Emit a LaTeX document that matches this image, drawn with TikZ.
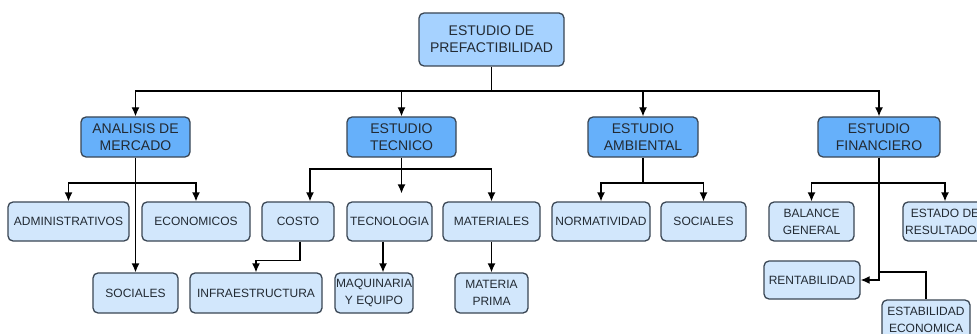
\documentclass[tikz,border=0pt]{standalone}
\usepackage{fontspec}
\setmainfont{Liberation Sans}
\usetikzlibrary{arrows.meta}
\definecolor{rootfill}{HTML}{A6D2FF}
\definecolor{studyfill}{HTML}{66B0FA}
\definecolor{leaffill}{HTML}{D2E7FC}
\definecolor{edge}{HTML}{3A4654}
\definecolor{ink}{HTML}{222A33}

\begin{document}
\begin{tikzpicture}[x=1pt, y=-1pt, >={Latex[length=9pt,width=8pt]},
	box/.style={draw=edge, line width=1.3pt, rounded corners=5pt, align=center, inner sep=1pt, text=ink},
	rootbox/.style={box, fill=rootfill, font=\fontsize{14}{17}\selectfont},
	studybox/.style={box, fill=studyfill, font=\fontsize{14}{17}\selectfont},
	leafbox/.style={box, fill=leaffill, font=\fontsize{12}{17}\selectfont},
	link/.style={line width=1.3pt, black}]
	\clip (0,0) rectangle (977,334);
	\fill[white] (0,0) rectangle (977,334);

	\node[rootbox, minimum width=145pt, minimum height=53pt] (root) at (491.5, 39.5) {ESTUDIO DE\\PREFACTIBILIDAD};

	\node[studybox, minimum width=109pt, minimum height=40pt] (mer) at (135.5, 137) {ANALISIS DE\\MERCADO};
	\node[studybox, minimum width=109pt, minimum height=40pt] (tec) at (401.5, 137) {ESTUDIO\\TECNICO};
	\node[studybox, minimum width=110pt, minimum height=40pt] (amb) at (643, 137) {ESTUDIO\\AMBIENTAL};
	\node[studybox, minimum width=122pt, minimum height=40pt] (fin) at (879, 137) {ESTUDIO\\FINANCIERO};

	\node[leafbox, minimum width=121pt, minimum height=39pt] (adm) at (68.5, 221.5) {ADMINISTRATIVOS};
	\node[leafbox, minimum width=108pt, minimum height=39pt] (eco) at (196, 221.5) {ECONOMICOS};
	\node[leafbox, minimum width=85pt, minimum height=40pt] (soc1) at (135.5, 293) {SOCIALES};

	\node[leafbox, minimum width=72pt, minimum height=39pt] (costo) at (298, 221.5) {COSTO};
	\node[leafbox, minimum width=85pt, minimum height=39pt] (tecn) at (389.5, 221.5) {TECNOLOGIA};
	\node[leafbox, minimum width=97pt, minimum height=39pt] (mat) at (491.5, 221.5) {MATERIALES};
	\node[leafbox, minimum width=132pt, minimum height=40pt] (infra) at (256, 293) {INFRAESTRUCTURA};
	\node[leafbox, minimum width=78pt, minimum height=40pt] (maq) at (374, 293) {MAQUINARIA\\Y EQUIPO};
	\node[leafbox, minimum width=73pt, minimum height=40pt] (mp) at (491.5, 293) {MATERIA\\PRIMA};

	\node[leafbox, minimum width=98pt, minimum height=39pt] (norm) at (601, 221.5) {NORMATIVIDAD};
	\node[leafbox, minimum width=85pt, minimum height=39pt] (soc2) at (703.5, 221.5) {SOCIALES};

	\node[leafbox, minimum width=85pt, minimum height=39pt] (bal) at (811.5, 221.5) {BALANCE\\GENERAL};
	\node[leafbox, minimum width=84pt, minimum height=39pt] (est) at (945, 221.5) {ESTADO DE\\RESULTADOS};
	\node[leafbox, minimum width=96pt, minimum height=38pt] (rent) at (812, 280) {RENTABILIDAD};
	\node[leafbox, minimum width=88pt, minimum height=40pt] (estab) at (926, 320) {ESTABILIDAD\\ECONOMICA};

	\coordinate (b0) at (491.5, 91);
	\coordinate (bm) at (135.5, 183);
	\coordinate (bt) at (401.5, 169);
	\coordinate (ba) at (643, 183);
	\coordinate (bf) at (879, 183);
	\coordinate (bs) at (879, 272);

	\draw[->, link] (root) -- (b0) -| (mer);
	\draw[->, link] (b0) -| (tec);
	\draw[->, link] (b0) -| (amb);
	\draw[->, link] (b0) -| (fin);

	\draw[->, link] (mer) -- (bm) -| (adm);
	\draw[->, link] (bm) -| (eco);
	\draw[->, link] (mer) -- (soc1);

	\draw[->, link] (tec) -- (bt) -| ([xshift=12pt]costo.north);
	\draw[->, link, shorten >=8pt] (bt) -- (bt |- tecn.north);
	\draw[->, link] (bt) -| (mat);
	\draw[->, link] ([xshift=2pt]costo.south) -- ++(0,19) -| (infra);
	\draw[->, link] ([xshift=-6.5pt]tecn.south) -- ([xshift=9pt]maq.north);
	\draw[->, link] (mat) -- (mp);

	\draw[->, link] (amb) -- (ba) -| (norm);
	\draw[->, link] (ba) -| (soc2);

	\draw[->, link] (fin) -- (bf) -| (bal);
	\draw[->, link] (bf) -| (est);
	\draw[->, link] (fin) |- (rent);
	\draw[link] (bs) -| (estab);
\end{tikzpicture}
\end{document}
